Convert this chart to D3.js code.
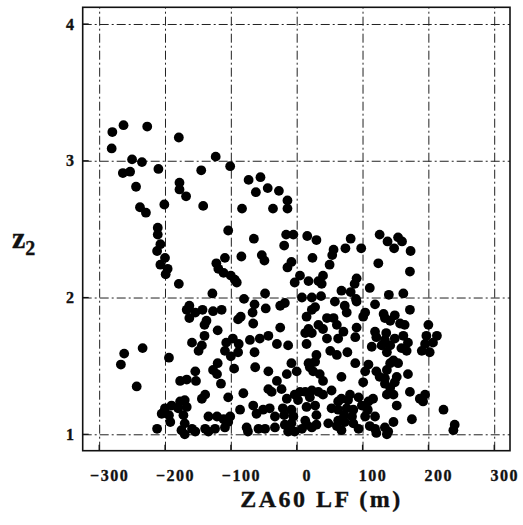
<!DOCTYPE html>
<html>
<head>
<meta charset="utf-8">
<script src="https://cdn.jsdelivr.net/npm/d3@7/dist/d3.min.js"></script>
<style>
  html, body { margin: 0; padding: 0; background: #fff; }
  svg { display: block; }
  text { font-family: "Liberation Serif", "Times New Roman", serif; font-weight: bold; fill: #111; stroke: #111; stroke-width: 0.35px; }
</style>
</head>
<body>
<script>
const xTicks = [-300, -200, -100, 0, 100, 200, 300];
const yTicks = [1, 2, 3, 4];
const xTitle = "ZA60 LF (m)";
const yTitleMain = "z";
const yTitleSub = "2";

// ZA60 LF (m) values
const za60 = [
-280,-263,-227,-281,-179,-250,-235,-210,-123,-264,-253,-145,-101,-178,-178,-168,-244,-238,-229,-201,
-142,-211,-211,-207,-212,-200,-207,-196,-199,-179,-128,-122,-119,-111,-109,-104,-73,-55,-62,-44,
-27,-14,-14,-83,-36,-65,-16,-5,16,30,-19,-84,-53,-49,-8,-14,24,56,54,50,
74,-100,-94,-91,5,-3,18,33,40,38,68,-80,-48,8,37,82,98,126,138,154,
160,148,173,124,172,91,88,82,111,140,162,90,-262,-267,-234,-243,-194,-212,-163,-167,
-154,-163,-143,-127,-114,-137,-140,-120,-140,-159,-144,-149,-120,-127,-121,-154,-177,-167,-153,-115,
-139,-144,-104,-170,-177,-190,-200,-205,-180,-167,-194,-192,-172,-170,-175,-159,-134,-121,-111,-104,
-139,-124,-109,-170,-154,-134,-64,-47,-25,-18,-85,-89,-67,-66,-25,15,13,-71,-56,-43,
-107,-97,-88,-89,-100,-109,-30,-13,-64,15,-8,-63,-43,-15,0,18,-95,-30,-43,-38,
-23,-81,-15,-3,2,13,15,-86,-66,-61,-51,-41,-33,-19,-8,-5,-101,-76,-74,-58,
-48,-33,-18,-8,-3,8,15,13,23,28,23,58,73,91,119,104,101,76,132,46,
56,61,33,18,23,40,46,63,71,89,91,119,121,136,114,129,137,51,61,77,
30,28,20,25,35,40,89,109,104,121,126,137,68,134,101,23,33,40,20,53,
68,63,78,94,109,116,137,53,63,76,86,84,104,119,30,23,48,63,73,86,
94,119,134,137,172,149,142,134,157,164,200,134,142,149,162,169,159,167,197,213,
207,195,190,202,147,154,142,169,152,149,134,172,147,152,195,187,192,223,175,147,
139,240,238,-21,28,99,108,72,-13,30,61,68,111,121,81,5,142
];

// z2 values
const z2 = [
3.21,3.26,3.25,3.09,3.17,3.01,2.99,2.94,3.03,2.91,2.92,2.93,2.96,2.84,2.79,2.74,2.81,2.66,2.62,2.68,
2.67,2.51,2.46,2.39,2.34,2.29,2.24,2.21,2.17,2.10,2.03,2.25,2.21,2.18,2.29,2.49,2.86,2.88,2.77,2.80,
2.78,2.71,2.65,2.65,2.65,2.43,2.46,2.46,2.45,2.42,2.38,2.30,2.31,2.27,2.26,2.22,2.29,2.35,2.31,2.24,
2.36,2.16,2.13,2.11,2.16,2.11,2.12,2.12,2.16,2.10,2.05,1.99,2.03,2.00,2.01,2.43,2.36,2.46,2.41,2.44,
2.41,2.36,2.34,2.25,2.19,2.14,2.10,2.04,2.07,2.02,2.03,1.99,1.59,1.51,1.63,1.35,1.56,1.04,1.94,1.91,
1.89,1.85,1.91,1.90,1.91,1.83,1.80,1.76,1.72,1.67,1.65,1.61,1.52,1.47,1.44,1.46,1.39,1.40,1.39,1.37,
1.29,1.26,1.27,1.25,1.24,1.21,1.19,1.15,1.19,1.20,1.14,1.09,1.14,1.08,1.03,1.04,1.13,1.13,1.11,1.09,
1.04,1.04,1.05,1.00,1.02,1.02,1.95,1.92,1.94,1.96,1.86,1.84,1.89,1.81,1.78,1.86,1.74,1.69,1.70,1.72,
1.67,1.70,1.66,1.60,1.57,1.61,1.66,1.65,1.60,1.66,1.52,1.49,1.46,1.44,1.46,1.52,1.48,1.39,1.33,1.31,
1.33,1.30,1.26,1.29,1.25,1.31,1.20,1.18,1.21,1.15,1.18,1.19,1.13,1.14,1.18,1.13,1.13,1.05,1.02,1.04,
1.04,1.05,1.07,1.08,1.02,1.04,1.07,1.10,2.00,1.93,1.91,1.97,1.94,1.97,1.95,1.89,1.86,1.89,1.88,1.85,
1.85,1.80,1.80,1.77,1.74,1.77,1.70,1.70,1.75,1.71,1.78,1.75,1.71,1.74,1.64,1.65,1.60,1.61,1.58,1.60,
1.58,1.53,1.49,1.46,1.44,1.39,1.52,1.51,1.46,1.46,1.42,1.47,1.42,1.37,1.38,1.32,1.31,1.29,1.27,1.32,
1.26,1.24,1.25,1.27,1.24,1.26,1.29,1.19,1.18,1.19,1.18,1.13,1.13,1.13,1.14,1.05,1.08,1.10,1.09,1.08,
1.04,1.04,1.05,1.00,1.91,1.87,1.83,1.85,1.81,1.80,1.80,1.69,1.65,1.70,1.72,1.67,1.63,1.61,1.72,1.72,
1.67,1.66,1.61,1.60,1.54,1.52,1.52,1.44,1.42,1.38,1.41,1.31,1.29,1.21,1.29,1.26,1.24,1.18,1.11,1.09,
1.02,1.07,1.03,1.19,1.21,1.21,1.18,1.14,1.02,1.07,1.06,1.03,1.06,1.01,1.29,1.31,1.34
];

const W = 523, H = 525;
const mL = 82.7, mR = 510, mT = 7.3, mB = 450.7;

const svg = d3.select("body").append("svg").attr("width", W).attr("height", H);

const x = d3.scaleLinear().domain([-325, 324]).range([mL, mR]);
const y = d3.scaleLinear().domain([0.88, 4.122]).range([mB, mT]);

// X axis with grid lines
const gx = svg.append("g").attr("transform", `translate(0,${mB})`)
  .call(d3.axisBottom(x).tickValues(xTicks).tickSize(-(mB - mT)).tickFormat(d3.format("d")));
gx.select(".domain").remove();
gx.selectAll(".tick line").attr("stroke", "#222").attr("stroke-width", 1).attr("stroke-dasharray", "9,3,2,3");
gx.selectAll(".tick text").attr("y", 30).attr("dy", 0).attr("dx", 10)
  .style("font-size", "16px").style("letter-spacing", "1.5px").attr("fill", "#111");

// Y axis with grid lines
const gy = svg.append("g").attr("transform", `translate(${mL},0)`)
  .call(d3.axisLeft(y).tickValues(yTicks).tickSize(-(mR - mL)).tickFormat(d3.format("d")));
gy.select(".domain").remove();
gy.selectAll(".tick line").attr("stroke", "#222").attr("stroke-width", 1).attr("stroke-dasharray", "9,3,2,3");
gy.selectAll(".tick text").attr("x", -8.7).style("font-size", "16px").attr("fill", "#111");

// small solid inner ticks
svg.append("g").selectAll("line").data(yTicks).join("line")
  .attr("x1", mL).attr("x2", mL + 6).attr("y1", d => y(d)).attr("y2", d => y(d))
  .attr("stroke", "#111").attr("stroke-width", 1.2);
svg.append("g").selectAll("line").data(xTicks).join("line")
  .attr("x1", d => x(d)).attr("x2", d => x(d)).attr("y1", mB).attr("y2", mB - 6)
  .attr("stroke", "#111").attr("stroke-width", 1.2);

// frame
svg.append("rect").attr("x", mL).attr("y", mT).attr("width", mR - mL).attr("height", mB - mT)
  .attr("fill", "none").attr("stroke", "#111").attr("stroke-width", 1.6);

// points
svg.append("g").selectAll("circle").data(za60.map((v, i) => [v, z2[i]])).join("circle")
  .attr("cx", d => x(d[0])).attr("cy", d => y(d[1])).attr("r", 4.9).attr("fill", "#000");

// titles
svg.append("text").attr("x", 321.5).attr("y", 507).attr("text-anchor", "middle")
  .style("font-size", "24px").style("letter-spacing", "2.5px").text(xTitle);

const yt = svg.append("text").attr("x", 12).attr("y", 248).style("font-size", "30px");
yt.append("tspan").text(yTitleMain);
yt.append("tspan").attr("dy", 7).style("font-size", "20px").text(yTitleSub);
</script>
</body>
</html>
